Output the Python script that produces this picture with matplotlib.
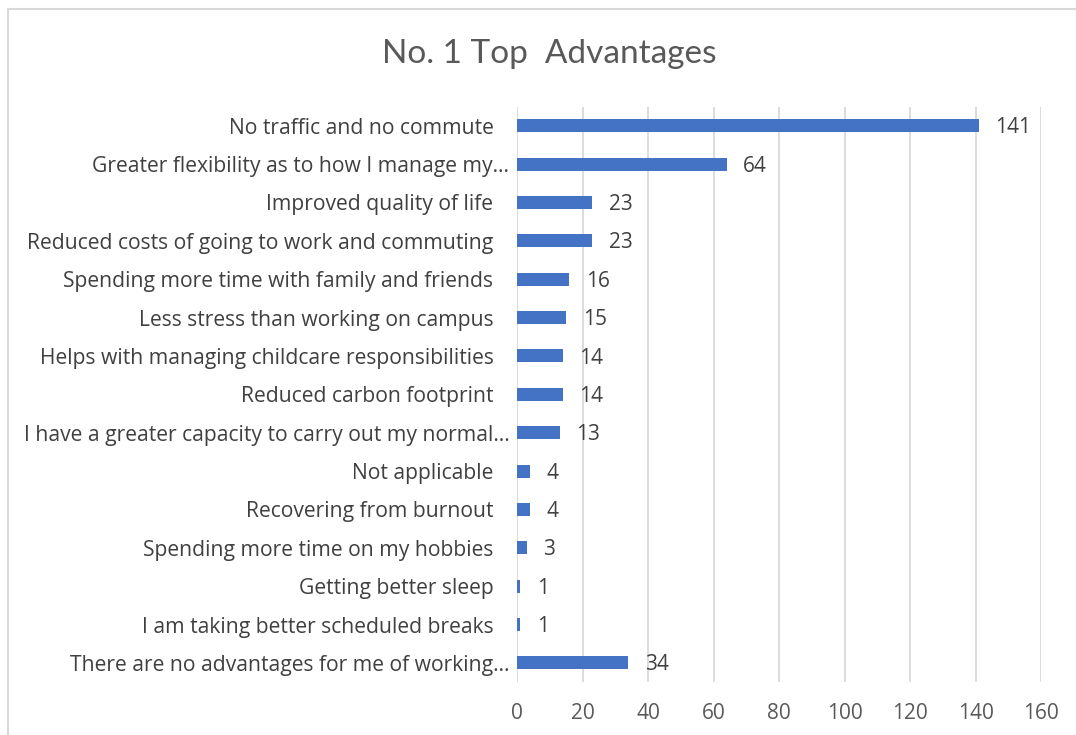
import matplotlib.pyplot as plt
from matplotlib.lines import Line2D
from matplotlib.transforms import ScaledTranslation

plt.rcParams['font.family'] = ['Open Sans', 'DejaVu Sans']

categories = [
    "No traffic and no commute",
    "Greater flexibility as to how I manage my\u2026",
    "Improved quality of life",
    "Reduced costs of going to work and commuting",
    "Spending more time with family and friends",
    "Less stress than working on campus",
    "Helps with managing childcare responsibilities",
    "Reduced carbon footprint",
    "I have a greater capacity to carry out my normal\u2026",
    "Not applicable",
    "Recovering from burnout",
    "Spending more time on my hobbies",
    "Getting better sleep",
    "I am taking better scheduled breaks",
    "There are no advantages for me of working\u2026",
]
counts = [141, 64, 23, 23, 16, 15, 14, 14, 13, 4, 4, 3, 1, 1, 34]
xticks = [0, 20, 40, 60, 80, 100, 120, 140, 160]

text_col = "#404040"
tick_col = "#595959"
bar_col = "#4472C4"
grid_col = "#D9D9D9"

fig = plt.figure(figsize=(10.76, 7.35), dpi=100)
# chart frame, only top and left edges fall inside the image
fig.add_artist(Line2D([0.0075, 0.0075], [0.0, 0.988], transform=fig.transFigure,
                      color="#D9D9D9", linewidth=1.5))
fig.add_artist(Line2D([0.0075, 1.0], [0.988, 0.988], transform=fig.transFigure,
                      color="#D9D9D9", linewidth=1.5))

ax = fig.add_axes([0.4805, 0.072, 0.487, 0.783])
y = list(range(len(categories)))
ax.barh(y, counts, height=0.34, color=bar_col, zorder=3)
ax.set_ylim(len(categories) - 0.5, -0.5)
ax.set_xlim(0, 160)
ax.set_xticks(xticks)
ax.set_xticklabels([str(t) for t in xticks], fontsize=15, color=tick_col)
ax.set_yticks(y)
ax.set_yticklabels(categories, fontsize=15.2, color=text_col)
ax.tick_params(axis='both', length=0)
ax.tick_params(axis='x', pad=15)
ax.tick_params(axis='y', pad=17)
ax.grid(axis='x', color=grid_col, linewidth=1.3, zorder=0)
for s in ax.spines.values():
    s.set_visible(False)

# truncated labels sit closer to the axis
for lab in ax.get_yticklabels():
    if lab.get_text().endswith("\u2026"):
        lab.set_transform(lab.get_transform() + ScaledTranslation(0.16, 0, fig.dpi_scale_trans))

for yi, v in zip(y, counts):
    ax.annotate(str(v), (v, yi), xytext=(12, -1.5), textcoords='offset points',
                va='center', ha='left', fontsize=15, color=text_col)

fig.text(0.51, 0.926, "No. 1 Top  Advantages", ha='center', va='center',
         fontsize=24, color=tick_col, family=['Lato', 'DejaVu Sans'])

fig.savefig("out.png", dpi=100)
